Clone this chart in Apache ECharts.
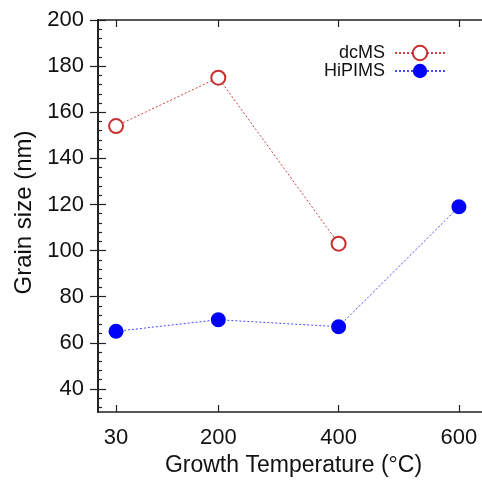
<!DOCTYPE html>
<html><head><meta charset="utf-8">
<script src="https://cdn.jsdelivr.net/npm/echarts@6/dist/echarts.min.js"></script>
<style>html,body{margin:0;padding:0;background:#fff}#c{width:482px;height:483px}</style>
</head><body><div id="c"></div>
<script>
const xTicks = [30, 200, 400, 600];
const yMajor = [40, 60, 80, 100, 120, 140, 160, 180, 200];
const yMinor = [32, 36, 44, 48, 52, 56, 64, 68, 72, 76, 84, 88, 92, 96, 104, 108, 112, 116, 124, 128, 132, 136, 144, 148, 152, 156, 164, 168, 172, 176, 184, 188, 192, 196];
const dcmsX = [30, 200, 400];
const dcmsY = [154, 175, 103];
const hipimsX = [30, 200, 400, 600];
const hipimsY = [65, 70, 67, 119];

const FONT = 'Liberation Sans';
const axisLine = {show: true, lineStyle: {color: '#222', width: 1.5}};
function yAx(pos, ticks, len, labels, name) {
  return {
    type: 'value', position: pos, min: 30, max: 200,
    axisLine: axisLine,
    axisTick: {show: true, inside: true, length: len, customValues: ticks, lineStyle: {color: '#222', width: 1.2}},
    axisLabel: labels ? {show: true, customValues: yMajor, fontSize: 22, color: '#111', fontFamily: FONT, margin: 14} : {show: false},
    splitLine: {show: false},
    name: name || '', nameLocation: 'middle', nameGap: 61, nameRotate: 90,
    nameTextStyle: {fontSize: 24, color: '#111', fontFamily: FONT, padding: [0, 0, 0, 7]}
  };
}
function xAx(pos, labels, name) {
  return {
    type: 'value', position: pos, min: 0, max: 650,
    axisLine: axisLine,
    axisTick: {show: true, inside: true, length: 7, customValues: xTicks, lineStyle: {color: '#222', width: 1.2}},
    axisLabel: labels ? {show: true, customValues: xTicks, fontSize: 22, color: '#111', fontFamily: FONT, margin: 15} : {show: false},
    splitLine: {show: false},
    name: name || '', nameLocation: 'middle', nameGap: 40,
    nameTextStyle: {fontSize: 23, color: '#111', fontFamily: FONT}
  };
}
const chart = echarts.init(document.getElementById('c'), null, {renderer: 'canvas'});
chart.setOption({
  animation: false,
  backgroundColor: '#fff',
  grid: {left: 98, top: 20, width: 391, bottom: 71, containLabel: false, outerBoundsMode: 'none'},
  xAxis: [xAx('bottom', true, 'Growth Temperature (°C)'), xAx('top', false)],
  yAxis: [yAx('left', yMajor, 8, true, 'Grain size (nm)'), yAx('right', yMajor, 8, false), yAx('left', yMinor, 4, false), yAx('right', yMinor, 4, false)],
  legend: {
    orient: 'vertical', right: 31, top: 39, align: 'right',
    itemWidth: 50, itemHeight: 18, itemGap: 0,
    formatter: n => n + ' ',
    textStyle: {fontSize: 18, color: '#111', fontFamily: FONT},
    data: ['dcMS', 'HiPIMS']
  },
  series: [
    {
      name: 'dcMS', type: 'line', xAxisIndex: 0, yAxisIndex: 0,
      data: dcmsX.map((x, i) => [x, dcmsY[i]]),
      symbol: 'emptyCircle', symbolSize: 14,
      itemStyle: {color: '#c83030', borderColor: '#c83030', borderWidth: 1.2},
      lineStyle: {color: '#d04040', width: 1, type: [2, 2]}
    },
    {
      name: 'HiPIMS', type: 'line', xAxisIndex: 0, yAxisIndex: 0,
      data: hipimsX.map((x, i) => [x, hipimsY[i]]),
      symbol: 'circle', symbolSize: 15,
      itemStyle: {color: '#0000ff'},
      lineStyle: {color: '#4848ff', width: 1, type: [2, 2]}
    }
  ]
});
</script></body></html>
